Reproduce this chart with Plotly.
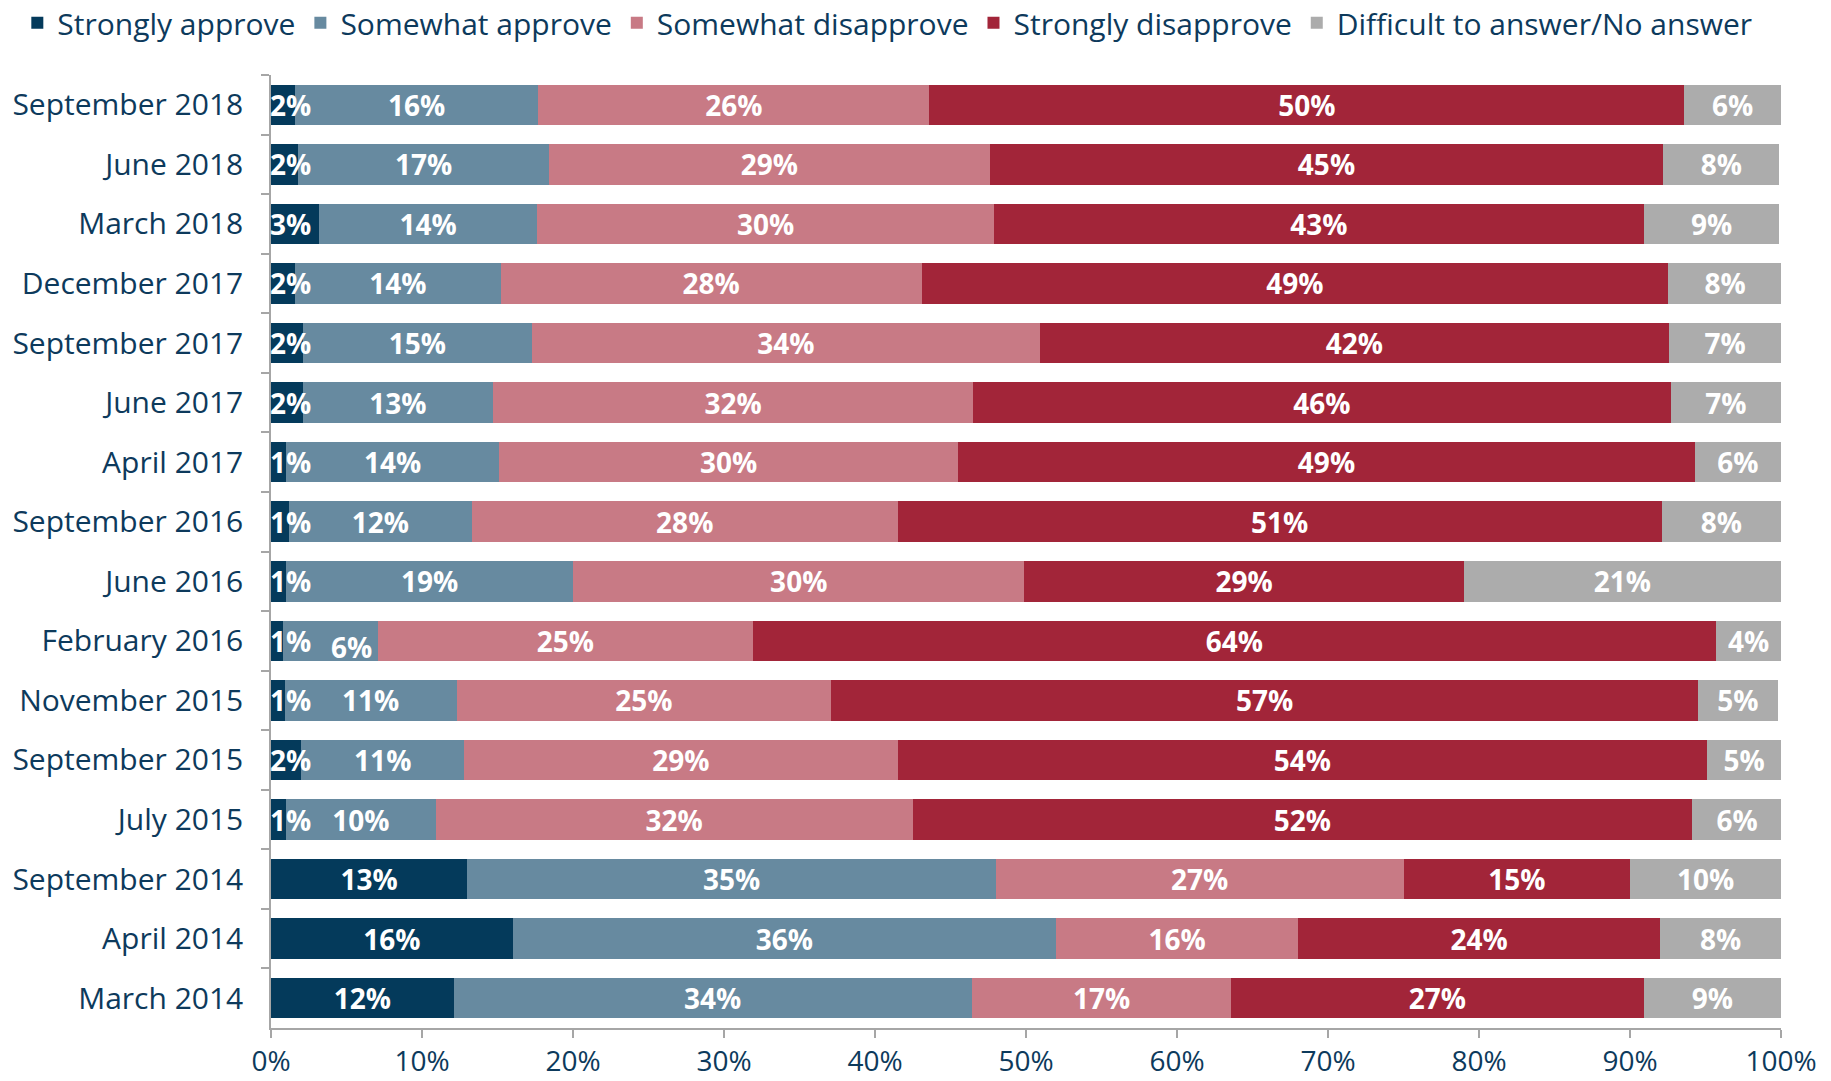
import plotly.graph_objects as go

periods = ["September 2018", "June 2018", "March 2018", "December 2017", "September 2017",
           "June 2017", "April 2017", "September 2016", "June 2016", "February 2016",
           "November 2015", "September 2015", "July 2015", "September 2014", "April 2014",
           "March 2014"]

strongly_approve = [1.6, 1.8, 3.2, 1.6, 2.1, 2.1, 1.0, 1.2, 1.0, 0.8, 0.9, 2.0, 1.0, 13.0, 16.0, 12.1]
somewhat_approve = [16.1, 16.6, 14.4, 13.6, 15.2, 12.6, 14.1, 12.1, 19.0, 6.3, 11.4, 10.8, 9.9, 35.0, 36.0, 34.3]
somewhat_disapprove = [25.9, 29.2, 30.3, 27.9, 33.6, 31.8, 30.4, 28.2, 29.9, 24.8, 24.8, 28.7, 31.6, 27.0, 16.0, 17.2]
strongly_disapprove = [50.0, 44.6, 43.0, 49.4, 41.7, 46.2, 48.8, 50.6, 29.1, 63.8, 57.4, 53.6, 51.6, 15.0, 24.0, 27.3]
no_answer = [6.4, 7.7, 9.0, 7.6, 7.4, 7.3, 5.7, 7.9, 21.0, 4.3, 5.3, 4.9, 6.0, 10.0, 8.0, 9.1]

series_names = ["Strongly approve", "Somewhat approve", "Somewhat disapprove",
                "Strongly disapprove", "Difficult to answer/No answer"]
series_values = [strongly_approve, somewhat_approve, somewhat_disapprove,
                 strongly_disapprove, no_answer]
series_colors = ["#043a5b", "#678aa0", "#c87a85", "#a22539", "#acacac"]

x_ticks = [0, 10, 20, 30, 40, 50, 60, 70, 80, 90, 100]

FONT = "Open Sans"
TEXT_COLOR = "#0d3a5c"
AXIS_COLOR = "#a6a6a6"
SMALL = 5        # thin "Strongly approve" segments: label starts at the axis
NUDGED = "February 2016"   # its "Somewhat approve" label is pushed aside in the original

LABEL_FONT = dict(family=FONT, size=28, color="white", weight="bold")

fig = go.Figure()
for i, (name, vals, color) in enumerate(zip(series_names, series_values, series_colors)):
    positions = []
    for p, v in zip(periods, vals):
        if i == 0 and v < SMALL:
            positions.append("none")
        elif i == 1 and p == NUDGED:
            positions.append("none")
        else:
            positions.append("inside")
    fig.add_trace(go.Bar(
        y=periods, x=vals, name=name, orientation="h",
        marker=dict(color=color, line=dict(width=0)),
        text=[f"{round(v)}%" for v in vals],
        textposition=positions, insidetextanchor="middle",
        textangle=0, constraintext="none",
        textfont=LABEL_FONT,
        hoverinfo="skip",
    ))

for p, v in zip(periods, strongly_approve):
    if v < SMALL:
        fig.add_annotation(x=0, y=p, xref="x", yref="y", xanchor="left", yanchor="middle",
                           text=f"{round(v)}%", showarrow=False, xshift=-3,
                           font=LABEL_FONT)

k = periods.index(NUDGED)
fig.add_annotation(x=strongly_approve[k] + somewhat_approve[k] / 2, y=NUDGED,
                   xref="x", yref="y", xanchor="center", yanchor="middle",
                   text=f"{round(somewhat_approve[k])}%", showarrow=False,
                   xshift=21, yshift=-6, font=LABEL_FONT)

fig.update_layout(
    width=1831, height=1081,
    barmode="stack", bargap=0.32,
    paper_bgcolor="white", plot_bgcolor="white",
    font=dict(family=FONT, size=30, color=TEXT_COLOR),
    margin=dict(l=271, r=50, t=75, b=53, autoexpand=False),
    showlegend=True,
    legend=dict(orientation="h", xref="paper", yref="paper",
                x=-0.168, y=1.082, xanchor="left", yanchor="top",
                font=dict(family=FONT, size=30, color=TEXT_COLOR),
                traceorder="normal", itemclick=False, itemdoubleclick=False,
                bgcolor="rgba(0,0,0,0)"),
)
fig.update_xaxes(range=[0, 100], tickvals=x_ticks,
                 ticktext=[f"{t}%" for t in x_ticks],
                 showgrid=False, zeroline=False, automargin=False,
                 showline=True, linecolor=AXIS_COLOR, linewidth=1.5,
                 ticks="outside", ticklen=8, tickcolor=AXIS_COLOR, tickwidth=1.5,
                 ticklabelstandoff=0,
                 tickfont=dict(family=FONT, size=28, color=TEXT_COLOR))
fig.update_yaxes(categoryorder="array", categoryarray=periods, autorange="reversed",
                 showgrid=False, zeroline=False, automargin=False,
                 showline=True, linecolor=AXIS_COLOR, linewidth=1.5,
                 ticks="outside", ticklen=8, tickcolor=AXIS_COLOR, tickwidth=1.5,
                 tickson="boundaries", ticklabelstandoff=20,
                 tickfont=dict(family=FONT, size=30, color=TEXT_COLOR))

fig.write_html("out.html", config={"displayModeBar": False},
               post_script="document.body.style.margin='0';")
